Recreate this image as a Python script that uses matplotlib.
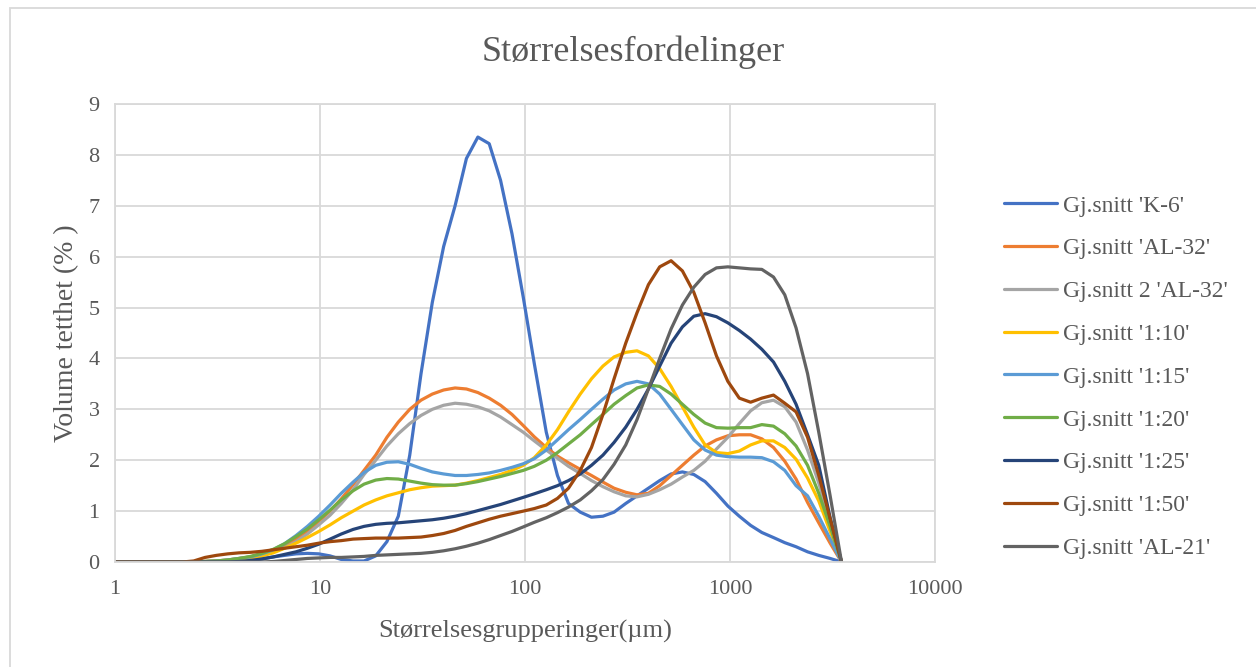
import matplotlib
matplotlib.use("Agg")
import matplotlib.pyplot as plt
from matplotlib.patches import Rectangle
from matplotlib.ticker import FixedLocator, NullLocator

plt.rcParams['font.family'] = ['Liberation Serif', 'DejaVu Serif']

# Particle size classes (µm)
sizes = [0.991, 1.13, 1.28, 1.45, 1.65, 1.88, 2.13, 2.42, 2.75, 3.12, 3.55, 4.03, 4.58,
         5.21, 5.92, 6.72, 7.64, 8.68, 9.86, 11.2, 12.7, 14.5, 16.4, 18.7, 21.2, 24.1,
         27.4, 31.1, 35.3, 40.1, 45.6, 51.8, 58.9, 66.9, 76.0, 86.4, 98.1, 111, 127,
         144, 163, 186, 211, 240, 272, 310, 352, 400, 454, 516, 586, 666, 756, 859,
         976, 1110, 1260, 1430, 1630, 1850, 2100, 2390, 2710, 3080, 3500]

k6 = [0, 0, 0, 0, 0, 0, 0, 0, 0, 0, 0, 0, 0.02,
      0.06, 0.10, 0.13, 0.16, 0.17, 0.16, 0.12, 0.05, 0.02, 0.02, 0.12, 0.40, 0.90,
      2.10, 3.70, 5.10, 6.20, 7.00, 7.93, 8.35, 8.22, 7.50, 6.45, 5.20, 3.90, 2.55,
      1.70, 1.15, 0.98, 0.88, 0.90, 0.98, 1.15, 1.30, 1.45, 1.60, 1.73, 1.77, 1.72, 1.58, 1.35,
      1.10, 0.90, 0.72, 0.58, 0.48, 0.38, 0.30, 0.20, 0.13, 0.07, 0]

al32 = [0, 0, 0, 0, 0, 0, 0, 0, 0.01, 0.02, 0.04, 0.07, 0.10,
        0.15, 0.22, 0.32, 0.45, 0.60, 0.80, 1.00, 1.24, 1.52, 1.80, 2.10, 2.45, 2.75,
        3.00, 3.18, 3.30, 3.38, 3.42, 3.40, 3.33, 3.22, 3.08, 2.90, 2.68, 2.46, 2.25,
        2.08, 1.95, 1.82, 1.70, 1.57, 1.45, 1.37, 1.32, 1.35, 1.50, 1.70, 1.90, 2.10, 2.28, 2.40,
        2.48, 2.50, 2.50, 2.42, 2.25, 1.98, 1.63, 1.17, 0.77, 0.37, 0]

al32_2 = [0, 0, 0, 0, 0, 0, 0, 0, 0.01, 0.02, 0.03, 0.05, 0.08,
          0.13, 0.20, 0.28, 0.40, 0.55, 0.73, 0.92, 1.15, 1.42, 1.72, 2.00, 2.28, 2.52,
          2.72, 2.88, 3.00, 3.08, 3.12, 3.10, 3.05, 2.97, 2.85, 2.70, 2.55, 2.38, 2.20,
          2.04, 1.88, 1.74, 1.60, 1.48, 1.38, 1.30, 1.28, 1.33, 1.42, 1.53, 1.67, 1.80, 1.98, 2.22,
          2.45, 2.72, 2.97, 3.13, 3.18, 3.05, 2.75, 2.20, 1.55, 0.80, 0]

r1_10 = [0, 0, 0, 0, 0, 0, 0, 0, 0.01, 0.02, 0.03, 0.05, 0.08,
         0.12, 0.18, 0.27, 0.37, 0.48, 0.60, 0.73, 0.87, 1.00, 1.12, 1.22, 1.30, 1.36,
         1.42, 1.46, 1.49, 1.50, 1.51, 1.55, 1.60, 1.66, 1.72, 1.80, 1.90, 2.05, 2.30,
         2.60, 2.95, 3.30, 3.60, 3.85, 4.03, 4.12, 4.15, 4.05, 3.80, 3.45, 3.05, 2.65, 2.30, 2.15,
         2.13, 2.18, 2.30, 2.38, 2.38, 2.25, 2.02, 1.65, 1.20, 0.60, 0]

r1_15 = [0, 0, 0, 0, 0, 0, 0, 0, 0.01, 0.02, 0.04, 0.07, 0.10,
         0.16, 0.24, 0.36, 0.52, 0.70, 0.90, 1.12, 1.35, 1.57, 1.76, 1.90, 1.96, 1.97,
         1.92, 1.84, 1.77, 1.73, 1.70, 1.70, 1.72, 1.75, 1.80, 1.86, 1.93, 2.03, 2.20,
         2.40, 2.60, 2.80, 3.00, 3.20, 3.38, 3.50, 3.55, 3.50, 3.30, 3.00, 2.70, 2.40, 2.20, 2.10,
         2.07, 2.06, 2.06, 2.05, 1.97, 1.80, 1.50, 1.30, 0.90, 0.45, 0]

r1_20 = [0, 0, 0, 0, 0, 0, 0, 0, 0.01, 0.02, 0.04, 0.07, 0.11,
         0.17, 0.25, 0.36, 0.50, 0.65, 0.83, 1.02, 1.22, 1.40, 1.53, 1.61, 1.64, 1.63,
         1.59, 1.55, 1.52, 1.51, 1.51, 1.54, 1.58, 1.63, 1.68, 1.74, 1.80, 1.88, 2.00,
         2.15, 2.32, 2.50, 2.70, 2.90, 3.10, 3.27, 3.42, 3.48, 3.45, 3.30, 3.10, 2.90, 2.73, 2.64,
         2.63, 2.64, 2.64, 2.70, 2.67, 2.52, 2.28, 1.90, 1.35, 0.70, 0]

r1_25 = [0, 0, 0, 0, 0, 0, 0, 0, 0, 0, 0, 0.01, 0.03,
         0.06, 0.10, 0.15, 0.20, 0.27, 0.35, 0.45, 0.55, 0.64, 0.70, 0.74, 0.76, 0.77,
         0.79, 0.81, 0.83, 0.86, 0.90, 0.95, 1.01, 1.07, 1.13, 1.20, 1.27, 1.34, 1.42,
         1.50, 1.60, 1.73, 1.90, 2.10, 2.35, 2.65, 3.00, 3.40, 3.85, 4.30, 4.62, 4.83, 4.88, 4.82,
         4.70, 4.55, 4.38, 4.18, 3.93, 3.55, 3.10, 2.50, 1.90, 0.87, 0]

r1_50 = [0, 0, 0, 0, 0, 0, 0, 0.02, 0.09, 0.13, 0.16, 0.18, 0.19,
         0.21, 0.24, 0.27, 0.30, 0.33, 0.37, 0.40, 0.42, 0.45, 0.46, 0.47, 0.47, 0.47,
         0.48, 0.49, 0.52, 0.56, 0.62, 0.70, 0.77, 0.84, 0.90, 0.95, 1.00, 1.05, 1.12,
         1.25, 1.45, 1.80, 2.25, 2.90, 3.60, 4.30, 4.90, 5.45, 5.80, 5.92, 5.72, 5.30, 4.70, 4.05,
         3.55, 3.22, 3.14, 3.22, 3.28, 3.12, 2.95, 2.45, 1.70, 0.85, 0]

al21 = [0, 0, 0, 0, 0, 0, 0, 0, 0, 0, 0, 0, 0,
        0, 0.01, 0.03, 0.05, 0.07, 0.08, 0.09, 0.09, 0.10, 0.11, 0.13, 0.14, 0.15,
        0.16, 0.17, 0.19, 0.22, 0.26, 0.31, 0.37, 0.44, 0.52, 0.60, 0.69, 0.78, 0.87,
        0.97, 1.08, 1.22, 1.40, 1.62, 1.92, 2.30, 2.80, 3.40, 4.00, 4.58, 5.05, 5.40, 5.65, 5.78,
        5.80, 5.78, 5.76, 5.75, 5.60, 5.25, 4.60, 3.70, 2.55, 1.30, 0]

labels = ["Gj.snitt 'K-6'", "Gj.snitt 'AL-32'", "Gj.snitt 2 'AL-32'", "Gj.snitt '1:10'",
          "Gj.snitt '1:15'", "Gj.snitt '1:20'", "Gj.snitt '1:25'", "Gj.snitt '1:50'",
          "Gj.snitt 'AL-21'"]
series = [k6, al32, al32_2, r1_10, r1_15, r1_20, r1_25, r1_50, al21]
colors = ["#4472C4", "#ED7D31", "#A5A5A5", "#FFC000", "#5B9BD5",
          "#70AD47", "#264478", "#9E480E", "#636363"]

text_col = "#595959"
grid_col = "#D9D9D9"

fig = plt.figure(figsize=(12.56, 6.67), dpi=100)
ax = fig.add_axes([115 / 1256, 1 - 562 / 667, 820 / 1256, 458 / 667])

for y, lab, c in zip(series, labels, colors):
    ax.plot(sizes, y, color=c, lw=2.3, label=lab, solid_capstyle='round')

ax.set_xscale('log')
ax.set_xlim(1, 10000)
ax.set_ylim(0, 9)
ax.xaxis.set_major_locator(FixedLocator([1, 10, 100, 1000, 10000]))
ax.xaxis.set_minor_locator(NullLocator())
ax.set_xticklabels(["1", "10", "100", "1000", "10000"])
ax.set_yticks(range(0, 10))
ax.tick_params(length=0, labelsize=16, colors=text_col, pad=13)
ax.tick_params(axis='y', pad=11)
ax.grid(True, color=grid_col, lw=1.3)
ax.set_axisbelow(True)
for s in ax.spines.values():
    s.set_color(grid_col)
    s.set_linewidth(1.3)

ax.set_xlabel("Størrelsesgrupperinger(µm)", fontsize=19, color=text_col, labelpad=15)
ax.set_ylabel("Volume tetthet (% )", fontsize=20, color=text_col, labelpad=7)
fig.text(633 / 1256, 1 - 52 / 667, "Størrelsesfordelinger", fontsize=26,
         color=text_col, ha='center', va='center')

ax.legend(loc='center left', bbox_to_anchor=(983 / 1256, 1 - 377 / 667),
          bbox_transform=fig.transFigure, frameon=False, fontsize=17,
          labelcolor=text_col, handlelength=2.25, handletextpad=0.25,
          labelspacing=0.9)

# outer chart border
fig.patches.append(Rectangle((10 / 1256, -0.1), 1.2, 1 - 8 / 667 + 0.1,
                             transform=fig.transFigure, fill=False,
                             edgecolor=grid_col, lw=1.3))

fig.savefig("out.png", dpi=100)
